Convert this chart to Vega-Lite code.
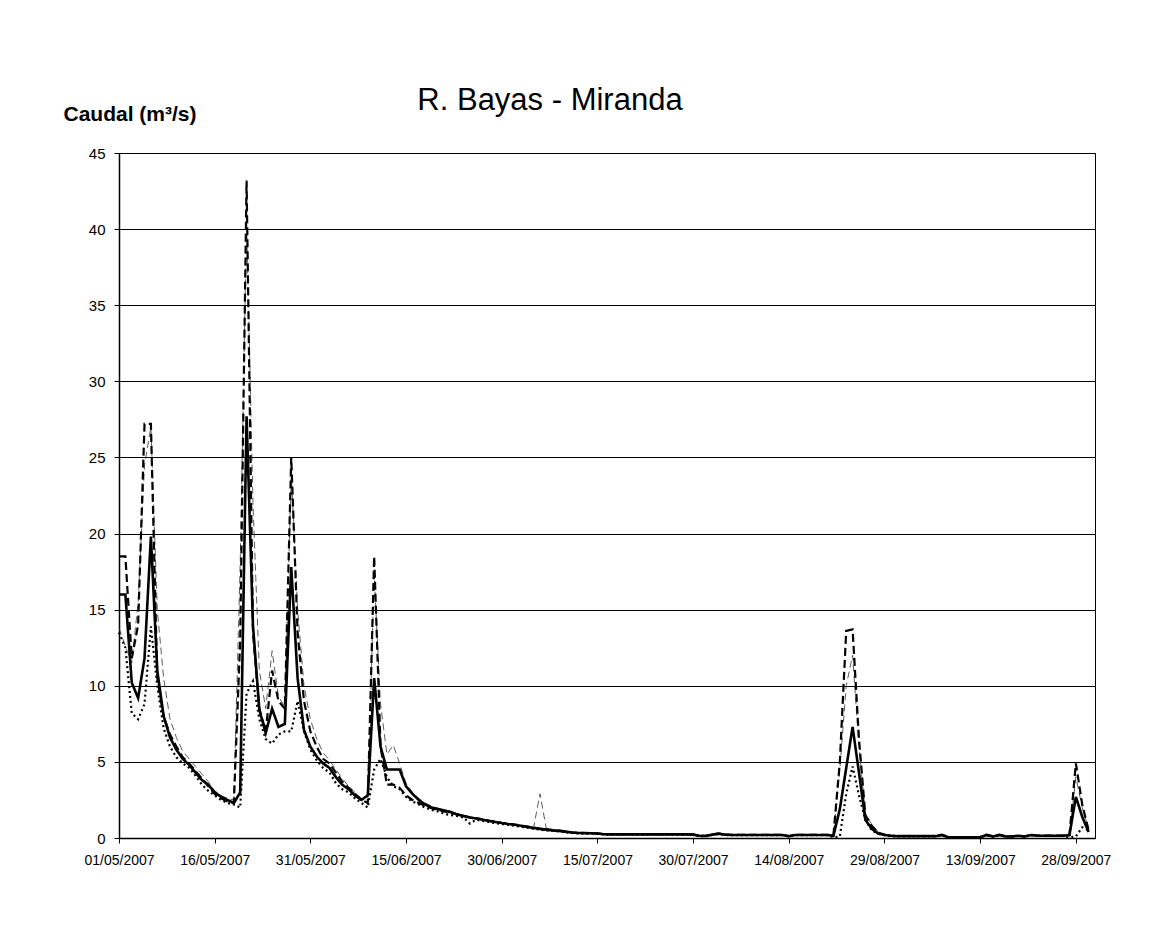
{
  "$schema": "https://vega.github.io/schema/vega-lite/v6.json",
  "width": 976,
  "height": 685,
  "autosize": {"type": "none"},
  "padding": {"left": 119, "top": 153, "right": 63, "bottom": 93},
  "background": "white",
  "title": {"text": "R. Bayas - Miranda", "font": "Liberation Sans", "fontSize": 31, "fontWeight": "normal", "color": "black", "anchor": "middle", "dx": -57, "frame": "group", "baseline": "alphabetic", "offset": -38},
  "data": {"values": [
    {"t":"2007-05-01","a":16.0,"b":18.5,"c":13.5,"e":13.8},
    {"t":"2007-05-02","a":16.0,"b":18.5,"c":12.5,"e":12.6},
    {"t":"2007-05-03","a":10.2,"b":11.8,"c":8.2,"e":11.5},
    {"t":"2007-05-04","a":9.2,"b":14.0,"c":7.8,"e":15.5},
    {"t":"2007-05-05","a":11.8,"b":27.2,"c":8.8,"e":24.5},
    {"t":"2007-05-06","a":19.8,"b":27.2,"c":13.9,"e":27.0},
    {"t":"2007-05-07","a":11.0,"b":10.5,"c":10.0,"e":15.0},
    {"t":"2007-05-08","a":8.0,"b":8.0,"c":7.2,"e":10.5},
    {"t":"2007-05-09","a":6.6,"b":6.8,"c":6.0,"e":7.8},
    {"t":"2007-05-10","a":5.8,"b":6.0,"c":5.3,"e":6.6},
    {"t":"2007-05-11","a":5.2,"b":5.3,"c":4.9,"e":5.7},
    {"t":"2007-05-12","a":4.8,"b":4.9,"c":4.6,"e":5.2},
    {"t":"2007-05-13","a":4.3,"b":4.4,"c":4.1,"e":4.7},
    {"t":"2007-05-14","a":3.8,"b":3.9,"c":3.5,"e":4.2},
    {"t":"2007-05-15","a":3.5,"b":3.4,"c":3.1,"e":3.7},
    {"t":"2007-05-16","a":3.0,"b":2.9,"c":2.8,"e":3.1},
    {"t":"2007-05-17","a":2.7,"b":2.6,"c":2.5,"e":2.8},
    {"t":"2007-05-18","a":2.5,"b":2.4,"c":2.3,"e":2.6},
    {"t":"2007-05-19","a":2.3,"b":2.3,"c":2.2,"e":2.5},
    {"t":"2007-05-20","a":3.0,"b":13.0,"c":2.0,"e":18.0},
    {"t":"2007-05-21","a":27.7,"b":43.2,"c":9.5,"e":40.5},
    {"t":"2007-05-22","a":14.0,"b":13.5,"c":10.3,"e":22.0},
    {"t":"2007-05-23","a":8.4,"b":8.5,"c":7.8,"e":11.0},
    {"t":"2007-05-24","a":6.9,"b":7.0,"c":6.5,"e":8.5},
    {"t":"2007-05-25","a":8.5,"b":11.0,"c":6.2,"e":12.3},
    {"t":"2007-05-26","a":7.3,"b":9.0,"c":6.8,"e":9.3},
    {"t":"2007-05-27","a":7.5,"b":8.5,"c":7.0,"e":8.6},
    {"t":"2007-05-28","a":17.8,"b":25.0,"c":7.0,"e":24.0},
    {"t":"2007-05-29","a":10.5,"b":13.5,"c":9.0,"e":15.0},
    {"t":"2007-05-30","a":7.1,"b":9.0,"c":7.0,"e":10.0},
    {"t":"2007-05-31","a":6.0,"b":7.0,"c":5.8,"e":7.8},
    {"t":"2007-06-01","a":5.35,"b":6.0,"c":5.1,"e":6.5},
    {"t":"2007-06-02","a":4.9,"b":5.2,"c":4.6,"e":5.6},
    {"t":"2007-06-03","a":4.6,"b":4.9,"c":4.3,"e":5.1},
    {"t":"2007-06-04","a":4.0,"b":4.3,"c":3.6,"e":4.5},
    {"t":"2007-06-05","a":3.5,"b":3.7,"c":3.2,"e":3.9},
    {"t":"2007-06-06","a":3.2,"b":3.3,"c":3.0,"e":3.4},
    {"t":"2007-06-07","a":2.8,"b":2.9,"c":2.6,"e":3.0},
    {"t":"2007-06-08","a":2.5,"b":2.5,"c":2.3,"e":2.6},
    {"t":"2007-06-09","a":2.8,"b":2.3,"c":2.0,"e":2.5},
    {"t":"2007-06-10","a":10.5,"b":18.5,"c":4.5,"e":17.3},
    {"t":"2007-06-11","a":6.0,"b":6.0,"c":5.2,"e":8.8},
    {"t":"2007-06-12","a":4.5,"b":3.5,"c":4.0,"e":5.5},
    {"t":"2007-06-13","a":4.5,"b":3.5,"c":3.4,"e":6.1},
    {"t":"2007-06-14","a":4.5,"b":3.3,"c":3.2,"e":4.9},
    {"t":"2007-06-15","a":3.4,"b":2.8,"c":2.7,"e":3.6},
    {"t":"2007-06-16","a":2.9,"b":2.5,"c":2.4,"e":3.0},
    {"t":"2007-06-17","a":2.5,"b":2.3,"c":2.2,"e":2.6},
    {"t":"2007-06-18","a":2.2,"b":2.1,"c":2.0,"e":2.3},
    {"t":"2007-06-19","a":2.0,"b":1.95,"c":1.85,"e":2.1},
    {"t":"2007-06-20","a":1.9,"b":1.85,"c":1.75,"e":1.95},
    {"t":"2007-06-21","a":1.8,"b":1.75,"c":1.6,"e":1.85},
    {"t":"2007-06-22","a":1.7,"b":1.65,"c":1.5,"e":1.75},
    {"t":"2007-06-23","a":1.55,"b":1.55,"c":1.45,"e":1.6},
    {"t":"2007-06-24","a":1.45,"b":1.45,"c":1.35,"e":1.5},
    {"t":"2007-06-25","a":1.35,"b":1.35,"c":0.95,"e":1.4},
    {"t":"2007-06-26","a":1.28,"b":1.3,"c":1.2,"e":1.3},
    {"t":"2007-06-27","a":1.2,"b":1.22,"c":1.12,"e":1.22},
    {"t":"2007-06-28","a":1.12,"b":1.14,"c":1.05,"e":1.15},
    {"t":"2007-06-29","a":1.05,"b":1.07,"c":0.98,"e":1.08},
    {"t":"2007-06-30","a":0.98,"b":1.0,"c":0.92,"e":1.0},
    {"t":"2007-07-01","a":0.92,"b":0.94,"c":0.86,"e":0.94},
    {"t":"2007-07-02","a":0.87,"b":0.88,"c":0.8,"e":0.88},
    {"t":"2007-07-03","a":0.8,"b":0.82,"c":0.74,"e":0.82},
    {"t":"2007-07-04","a":0.73,"b":0.75,"c":0.68,"e":0.75},
    {"t":"2007-07-05","a":0.66,"b":0.68,"c":0.6,"e":0.7},
    {"t":"2007-07-06","a":0.6,"b":0.62,"c":0.55,"e":2.9},
    {"t":"2007-07-07","a":0.55,"b":0.57,"c":0.5,"e":0.58},
    {"t":"2007-07-08","a":0.5,"b":0.52,"c":0.46,"e":0.52},
    {"t":"2007-07-09","a":0.47,"b":0.48,"c":0.43,"e":0.48},
    {"t":"2007-07-10","a":0.42,"b":0.43,"c":0.38,"e":0.43},
    {"t":"2007-07-11","a":0.36,"b":0.37,"c":0.33,"e":0.37},
    {"t":"2007-07-12","a":0.33,"b":0.34,"c":0.3,"e":0.34},
    {"t":"2007-07-13","a":0.32,"b":0.33,"c":0.29,"e":0.33},
    {"t":"2007-07-14","a":0.31,"b":0.32,"c":0.28,"e":0.32},
    {"t":"2007-07-15","a":0.3,"b":0.31,"c":0.27,"e":0.31},
    {"t":"2007-07-16","a":0.25,"b":0.26,"c":0.23,"e":0.26},
    {"t":"2007-07-17","a":0.24,"b":0.25,"c":0.22,"e":0.25},
    {"t":"2007-07-18","a":0.24,"b":0.25,"c":0.22,"e":0.25},
    {"t":"2007-07-19","a":0.24,"b":0.25,"c":0.22,"e":0.25},
    {"t":"2007-07-20","a":0.24,"b":0.25,"c":0.22,"e":0.25},
    {"t":"2007-07-21","a":0.24,"b":0.25,"c":0.22,"e":0.25},
    {"t":"2007-07-22","a":0.24,"b":0.25,"c":0.22,"e":0.25},
    {"t":"2007-07-23","a":0.24,"b":0.25,"c":0.22,"e":0.25},
    {"t":"2007-07-24","a":0.24,"b":0.25,"c":0.22,"e":0.25},
    {"t":"2007-07-25","a":0.24,"b":0.25,"c":0.22,"e":0.25},
    {"t":"2007-07-26","a":0.24,"b":0.25,"c":0.22,"e":0.25},
    {"t":"2007-07-27","a":0.24,"b":0.25,"c":0.22,"e":0.25},
    {"t":"2007-07-28","a":0.24,"b":0.25,"c":0.22,"e":0.25},
    {"t":"2007-07-29","a":0.24,"b":0.25,"c":0.22,"e":0.25},
    {"t":"2007-07-30","a":0.22,"b":0.23,"c":0.2,"e":0.23},
    {"t":"2007-07-31","a":0.15,"b":0.16,"c":0.13,"e":0.16},
    {"t":"2007-08-01","a":0.13,"b":0.14,"c":0.12,"e":0.14},
    {"t":"2007-08-02","a":0.22,"b":0.23,"c":0.2,"e":0.23},
    {"t":"2007-08-03","a":0.28,"b":0.3,"c":0.25,"e":0.3},
    {"t":"2007-08-04","a":0.22,"b":0.23,"c":0.2,"e":0.23},
    {"t":"2007-08-05","a":0.2,"b":0.21,"c":0.18,"e":0.21},
    {"t":"2007-08-06","a":0.2,"b":0.21,"c":0.18,"e":0.21},
    {"t":"2007-08-07","a":0.2,"b":0.21,"c":0.18,"e":0.21},
    {"t":"2007-08-08","a":0.2,"b":0.21,"c":0.18,"e":0.21},
    {"t":"2007-08-09","a":0.2,"b":0.21,"c":0.18,"e":0.21},
    {"t":"2007-08-10","a":0.2,"b":0.21,"c":0.18,"e":0.21},
    {"t":"2007-08-11","a":0.2,"b":0.21,"c":0.18,"e":0.21},
    {"t":"2007-08-12","a":0.2,"b":0.21,"c":0.18,"e":0.21},
    {"t":"2007-08-13","a":0.2,"b":0.21,"c":0.18,"e":0.21},
    {"t":"2007-08-14","a":0.12,"b":0.13,"c":0.1,"e":0.13},
    {"t":"2007-08-15","a":0.2,"b":0.21,"c":0.18,"e":0.21},
    {"t":"2007-08-16","a":0.2,"b":0.21,"c":0.18,"e":0.21},
    {"t":"2007-08-17","a":0.2,"b":0.21,"c":0.18,"e":0.21},
    {"t":"2007-08-18","a":0.2,"b":0.21,"c":0.18,"e":0.21},
    {"t":"2007-08-19","a":0.2,"b":0.21,"c":0.18,"e":0.21},
    {"t":"2007-08-20","a":0.2,"b":0.21,"c":0.18,"e":0.21},
    {"t":"2007-08-21","a":0.15,"b":0.2,"c":0.05,"e":0.2},
    {"t":"2007-08-22","a":1.9,"b":5.0,"c":0.1,"e":4.5},
    {"t":"2007-08-23","a":4.6,"b":13.6,"c":2.9,"e":10.0},
    {"t":"2007-08-24","a":7.3,"b":13.7,"c":4.7,"e":12.0},
    {"t":"2007-08-25","a":4.3,"b":6.5,"c":2.8,"e":6.0},
    {"t":"2007-08-26","a":1.2,"b":1.5,"c":1.2,"e":1.6},
    {"t":"2007-08-27","a":0.6,"b":0.8,"c":0.5,"e":0.9},
    {"t":"2007-08-28","a":0.3,"b":0.35,"c":0.28,"e":0.4},
    {"t":"2007-08-29","a":0.2,"b":0.22,"c":0.18,"e":0.22},
    {"t":"2007-08-30","a":0.15,"b":0.16,"c":0.13,"e":0.16},
    {"t":"2007-08-31","a":0.12,"b":0.13,"c":0.1,"e":0.13},
    {"t":"2007-09-01","a":0.12,"b":0.13,"c":0.1,"e":0.13},
    {"t":"2007-09-02","a":0.12,"b":0.13,"c":0.1,"e":0.13},
    {"t":"2007-09-03","a":0.12,"b":0.13,"c":0.1,"e":0.13},
    {"t":"2007-09-04","a":0.12,"b":0.13,"c":0.1,"e":0.13},
    {"t":"2007-09-05","a":0.12,"b":0.13,"c":0.1,"e":0.13},
    {"t":"2007-09-06","a":0.12,"b":0.13,"c":0.1,"e":0.13},
    {"t":"2007-09-07","a":0.2,"b":0.21,"c":0.18,"e":0.21},
    {"t":"2007-09-08","a":0.05,"b":0.06,"c":0.04,"e":0.06},
    {"t":"2007-09-09","a":0.05,"b":0.06,"c":0.04,"e":0.06},
    {"t":"2007-09-10","a":0.05,"b":0.06,"c":0.04,"e":0.06},
    {"t":"2007-09-11","a":0.05,"b":0.06,"c":0.04,"e":0.06},
    {"t":"2007-09-12","a":0.05,"b":0.06,"c":0.04,"e":0.06},
    {"t":"2007-09-13","a":0.05,"b":0.06,"c":0.04,"e":0.06},
    {"t":"2007-09-14","a":0.2,"b":0.21,"c":0.18,"e":0.21},
    {"t":"2007-09-15","a":0.1,"b":0.11,"c":0.09,"e":0.11},
    {"t":"2007-09-16","a":0.2,"b":0.21,"c":0.18,"e":0.21},
    {"t":"2007-09-17","a":0.1,"b":0.11,"c":0.09,"e":0.11},
    {"t":"2007-09-18","a":0.1,"b":0.11,"c":0.09,"e":0.11},
    {"t":"2007-09-19","a":0.15,"b":0.16,"c":0.13,"e":0.16},
    {"t":"2007-09-20","a":0.1,"b":0.11,"c":0.09,"e":0.11},
    {"t":"2007-09-21","a":0.2,"b":0.21,"c":0.18,"e":0.21},
    {"t":"2007-09-22","a":0.15,"b":0.16,"c":0.13,"e":0.16},
    {"t":"2007-09-23","a":0.15,"b":0.16,"c":0.13,"e":0.16},
    {"t":"2007-09-24","a":0.15,"b":0.16,"c":0.13,"e":0.16},
    {"t":"2007-09-25","a":0.15,"b":0.16,"c":0.13,"e":0.16},
    {"t":"2007-09-26","a":0.15,"b":0.16,"c":0.13,"e":0.16},
    {"t":"2007-09-27","a":0.2,"b":0.2,"c":0.05,"e":0.2},
    {"t":"2007-09-28","a":2.7,"b":4.9,"c":0.1,"e":4.0},
    {"t":"2007-09-29","a":1.4,"b":2.2,"c":0.7,"e":2.0},
    {"t":"2007-09-30","a":0.4,"b":0.5,"c":0.5,"e":0.6}
  ]},
  "transform": [{"fold": ["e", "c", "b", "a"], "as": ["s", "v"]}],
  "encoding": {
    "x": {
      "field": "t", "type": "temporal",
      "scale": {"type": "utc", "domain": [{"year": 2007, "month": 5, "date": 1, "utc": true}, {"year": 2007, "month": 10, "date": 1, "utc": true}]},
      "axis": {
        "title": null,
        "values": [
          {"year": 2007, "month": 5, "date": 1, "utc": true},
          {"year": 2007, "month": 5, "date": 16, "utc": true},
          {"year": 2007, "month": 5, "date": 31, "utc": true},
          {"year": 2007, "month": 6, "date": 15, "utc": true},
          {"year": 2007, "month": 6, "date": 30, "utc": true},
          {"year": 2007, "month": 7, "date": 15, "utc": true},
          {"year": 2007, "month": 7, "date": 30, "utc": true},
          {"year": 2007, "month": 8, "date": 14, "utc": true},
          {"year": 2007, "month": 8, "date": 29, "utc": true},
          {"year": 2007, "month": 9, "date": 13, "utc": true},
          {"year": 2007, "month": 9, "date": 28, "utc": true}
        ],
        "format": "%d/%m/%Y",
        "grid": false,
        "labelOverlap": false,
        "labelFlush": false,
        "labelFontSize": 14,
        "tickSize": 5,
        "labelPadding": 10
      }
    },
    "y": {
      "field": "v", "type": "quantitative",
      "scale": {"domain": [0, 45], "nice": false, "zero": true},
      "axis": {
        "values": [0, 5, 10, 15, 20, 25, 30, 35, 40, 45],
        "grid": true,
        "gridColor": "black",
        "gridWidth": 1,
        "gridOpacity": 1,
        "tickSize": 5,
        "labelPadding": 9,
        "labelFontSize": 15,
        "title": "Caudal (m³/s)",
        "titleAngle": 0,
        "titleAlign": "left",
        "titleBaseline": "alphabetic",
        "titleX": -56,
        "titleY": -33,
        "titleFont": "Liberation Sans",
        "titleFontSize": 21,
        "titleFontWeight": "bold",
        "titleColor": "black"
      }
    }
  },
  "layer": [
    {"transform": [{"filter": "datum.s === 'e'"}], "mark": {"type": "line", "color": "#333333", "strokeWidth": 0.8, "strokeDash": [7, 4]}},
    {"transform": [{"filter": "datum.s === 'c'"}], "mark": {"type": "line", "color": "black", "strokeWidth": 2.2, "strokeDash": [2, 3]}},
    {"transform": [{"filter": "datum.s === 'b'"}], "mark": {"type": "line", "color": "black", "strokeWidth": 2.2, "strokeDash": [8, 4]}},
    {"transform": [{"filter": "datum.s === 'a'"}], "mark": {"type": "line", "color": "black", "strokeWidth": 2.6}}
  ],
  "config": {
    "view": {"stroke": "black", "strokeWidth": 1},
    "axis": {
      "labelFont": "Liberation Sans",
      "labelColor": "black",
      "tickColor": "black",
      "domainColor": "black",
      "domainWidth": 1.5,
      "tickWidth": 1
    }
  }
}
